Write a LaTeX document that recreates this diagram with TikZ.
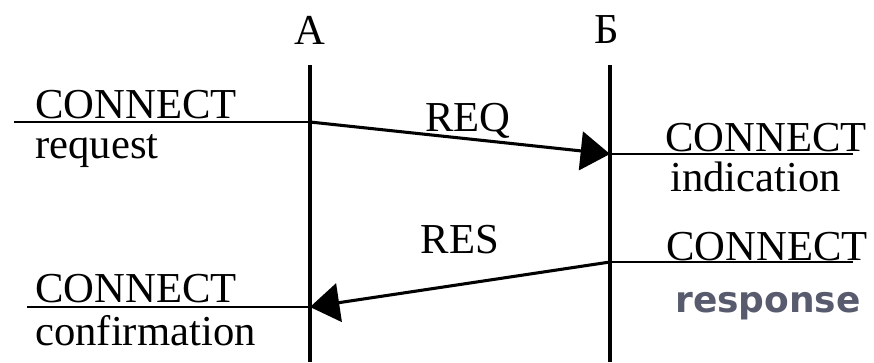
\documentclass[tikz,border=0pt]{standalone}
\usepackage{fontspec}
\setmainfont{Liberation Serif}
\newfontfamily\respfont{DejaVu Sans}
\usetikzlibrary{arrows.meta, positioning}
\definecolor{respgray}{RGB}{88, 91, 110}

\begin{document}
\begin{tikzpicture}[
		% global settings: one unit = one pixel of the sheet
		x=0.75pt, y=-0.75pt,
		font=\fontsize{32}{36}\selectfont,
		% styles
		party/.style={inner sep=0pt, anchor=base},
		prim/.style={inner sep=0pt, anchor=base west},
		sig/.style={inner sep=0pt, anchor=base},
		lifeline/.style={line width=2.3pt},
		service/.style={line width=2.1pt},
		msg/.style={line width=2.3pt, -{Triangle[length=22pt, width=29pt]}}
		]
		\useasboundingbox (0,0) rectangle (874,362);
		
		% ==========================================
		% Parties and lifelines
		% ==========================================
		\node[party] (A) at (310,44) {A};
		\node[party] (B) at (607,43) {Б};
		
		\coordinate (A_top) at (310,65);
		\coordinate (A_bot) at (310,362);
		\coordinate (B_top) at (610,65);
		\coordinate (B_bot) at (610,362);
		
		\draw[lifeline] (A_top) -- (A_bot);
		\draw[lifeline] (B_top) -- (B_bot);
		
		% ==========================================
		% Service primitives
		% ==========================================
		% request (A side)
		\coordinate (req_l) at (14,122);
		\coordinate (req_a) at (310,122);
		\node[prim] (req_top) at (35,118) {CONNECT};
		\node[prim] (req_bot) at (35,158) {request};
		
		% indication (B side)
		\coordinate (ind_b) at (610,154);
		\coordinate (ind_r) at (853,154);
		\node[prim] (ind_top) at (665,151) {CONNECT};
		\node[prim] (ind_bot) at (670,191) {indication};
		
		% response (B side)
		\coordinate (rsp_b) at (610,262);
		\coordinate (rsp_r) at (853,262);
		\node[prim] (rsp_top) at (666,260) {CONNECT};
		\node[prim, font=\respfont\bfseries\fontsize{27}{30}\selectfont, text=respgray] (rsp_bot) at (675,312) {response};
		
		% confirmation (A side)
		\coordinate (cnf_l) at (27,307);
		\coordinate (cnf_a) at (310,307);
		\node[prim] (cnf_top) at (35,302) {CONNECT};
		\node[prim] (cnf_bot) at (35,345) {confirmation};
		
		\draw[service] (req_l) -- (req_a);
		\draw[service] (ind_b) -- (ind_r);
		\draw[service] (rsp_b) -- (rsp_r);
		\draw[service] (cnf_l) -- (cnf_a);
		
		% ==========================================
		% Protocol data units
		% ==========================================
		\node[sig] (req) at (468,131) {REQ};
		\node[sig] (res) at (460,253) {RES};
		
		\draw[msg] (req_a) -- (ind_b);
		\draw[msg] (rsp_b) -- (cnf_a);
		
	\end{tikzpicture}
\end{document}
